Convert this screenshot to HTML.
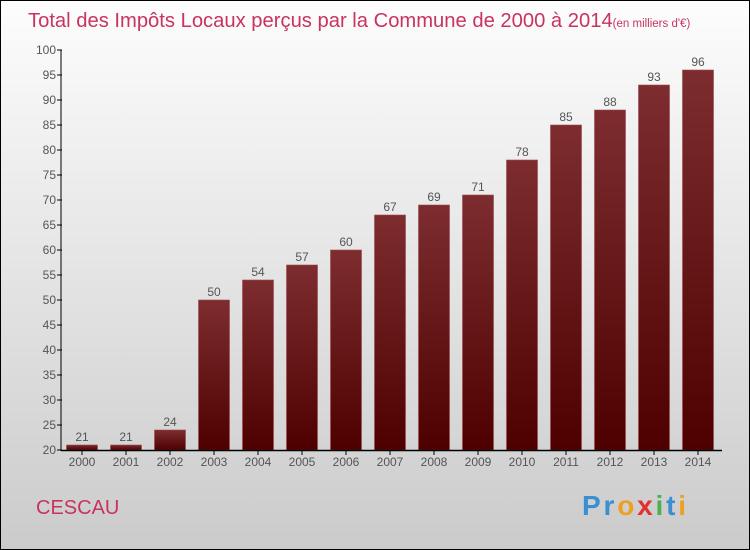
<!DOCTYPE html>
<html><head><meta charset="utf-8"><style>
body{margin:0}
svg{display:block;font-family:"Liberation Sans",sans-serif}
</style></head><body>
<svg width="750" height="550" viewBox="0 0 750 550">
<defs>
<linearGradient id="bg" x1="0" y1="0" x2="0" y2="1"><stop offset="0" stop-color="#fdfdfd"/><stop offset="1" stop-color="#cbcbcb"/></linearGradient>
<linearGradient id="bar" x1="0" y1="0" x2="0" y2="1"><stop offset="0" stop-color="#7d2d2f"/><stop offset="1" stop-color="#4e0000"/></linearGradient>
</defs>
<rect x="0.5" y="0.5" width="749" height="549" fill="url(#bg)" stroke="#000"/>
<text x="28" y="27" font-size="20.2" fill="#c8335f">Total des Impôts Locaux perçus par la Commune de 2000 à 2014<tspan font-size="11.5">(en milliers d'€)</tspan></text>
<g id="yaxis"></g>
<g id="bars"></g>
<g id="xaxis"></g>
<text x="36" y="514" font-size="20" fill="#c8335f">CESCAU</text>
<text x="582" y="515" font-size="28" font-weight="bold" textLength="104"><tspan fill="#3a8fd0">Pr</tspan><tspan fill="#f0a020">o</tspan><tspan fill="#e03030">x</tspan><tspan fill="#4cb050">i</tspan><tspan fill="#3a8fd0">t</tspan><tspan fill="#f0a020">i</tspan></text>
</svg>
<script>
const categories=["2000","2001","2002","2003","2004","2005","2006","2007","2008","2009","2010","2011","2012","2013","2014"];
const values=[21,21,24,50,54,57,60,67,69,71,78,85,88,93,96];
const yTicks=[20,25,30,35,40,45,50,55,60,65,70,75,80,85,90,95,100];
const NS="http://www.w3.org/2000/svg";
const y=v=>450-(v-20)*5;
const x=i=>82+i*44;
function mk(t,a,p){const e=document.createElementNS(NS,t);for(const k in a)e.setAttribute(k,a[k]);p.appendChild(e);return e;}
const ya=document.getElementById('yaxis'),xa=document.getElementById('xaxis'),bg=document.getElementById('bars');
mk('line',{x1:61,y1:50,x2:61,y2:451,stroke:'#000','stroke-width':1},ya);
yTicks.forEach(v=>{
 const t=mk('line',{x1:57,y1:y(v),x2:62,y2:y(v),stroke:'#000'},ya);
 
 
 const l=mk('text',{x:56,y:y(v)+4,'text-anchor':'end','font-size':12,fill:'#555'},ya);
 l.textContent=v;
 
 
});
mk('line',{x1:61,y1:450.5,x2:722,y2:450.5,stroke:'#000','stroke-width':1.5},xa);
categories.forEach((c,i)=>{
 const r=mk('rect',{x:x(i)-15.5,y:y(values[i]),width:31,height:450-y(values[i]),fill:'url(#bar)',stroke:'#9a4a4c','stroke-width':0.6},bg);
 
 
 const v=mk('text',{x:x(i),y:y(values[i])-4,'text-anchor':'middle','font-size':12,fill:'#555'},bg);
 v.textContent=values[i];
 
 
 mk('line',{x1:x(i),y1:450,x2:x(i),y2:455,stroke:'#000'},xa);
 const l=mk('text',{x:x(i),y:466,'text-anchor':'middle','font-size':12,fill:'#555'},xa);
 l.textContent=c;
 
 
});
</script>
</body></html>
